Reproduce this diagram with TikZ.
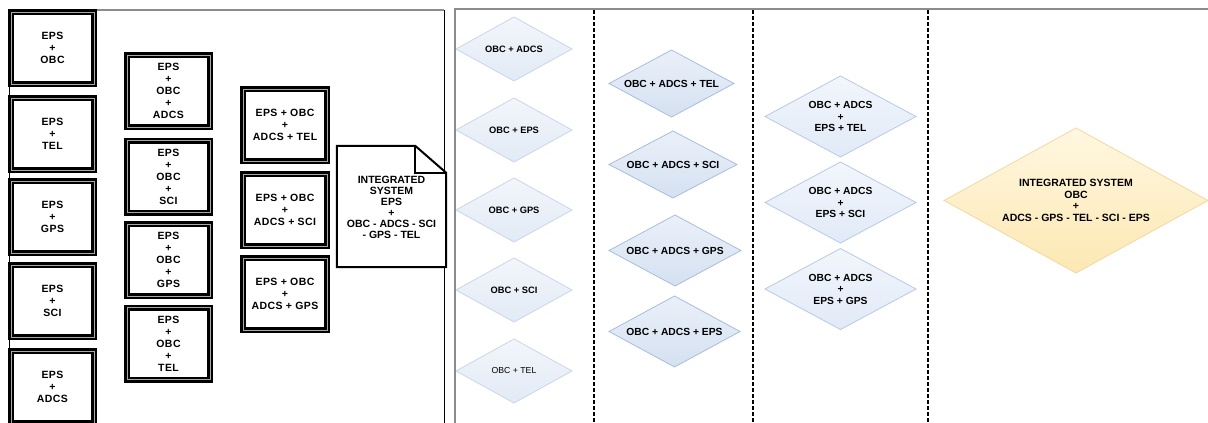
\documentclass[tikz,border=0pt]{standalone}
\usepackage{fontspec}
\setmainfont{Liberation Sans}
\usetikzlibrary{backgrounds}
\definecolor{framegray}{HTML}{8C8C8C}
\definecolor{midgray}{HTML}{A8A8A8}
\definecolor{bluetopA}{HTML}{F3F6FB}
\definecolor{bluebotA}{HTML}{E2EAF5}
\definecolor{blueedgeA}{HTML}{C9D6EA}
\definecolor{bluetopB}{HTML}{EAF0F9}
\definecolor{bluebotB}{HTML}{D5E1F1}
\definecolor{blueedgeB}{HTML}{A9BDDB}
\definecolor{bluetopC}{HTML}{F2F6FC}
\definecolor{bluebotC}{HTML}{E1EAF7}
\definecolor{blueedgeC}{HTML}{B9CAE3}
\definecolor{yeltop}{HTML}{FFF7E0}
\definecolor{yelbot}{HTML}{FDE8B3}
\definecolor{yeledge}{HTML}{F1D9A2}
\tikzset{
  dbox/.style={draw=black, line width=2.5pt, double=midgray, double distance=1pt,
    fill=white, rectangle, inner sep=0pt, outer sep=0pt, align=center,
    font=\fontsize{10.5}{12}\selectfont\bfseries\addfontfeatures{LetterSpace=4},
    minimum width=#1-6pt, minimum height=72pt},
  dbox/.default=89pt,
  docnode/.style={rectangle, inner sep=0pt, align=center,
    minimum width=109pt, minimum height=121pt,
    font=\fontsize{10.5}{11}\selectfont\bfseries},
  dianode/.style={rectangle, inner sep=0pt, outer sep=0pt, align=center},
  diaA/.style={dianode, minimum width=116pt, minimum height=64pt,
    font=\fontsize{9.3}{11}\selectfont\bfseries},
  diaB/.style={dianode, font=\fontsize{10.3}{11.5}\selectfont\bfseries},
  diaC/.style={dianode, minimum width=151pt, minimum height=81pt,
    font=\fontsize{10.3}{11.5}\selectfont\bfseries},
  diaY/.style={dianode, minimum width=264pt, minimum height=145pt,
    font=\fontsize{10.5}{11.5}\selectfont\bfseries},
  fillA/.style={draw=blueedgeA, top color=bluetopA, bottom color=bluebotA, line width=0.8pt},
  fillB/.style={draw=blueedgeB, top color=bluetopB, bottom color=bluebotB, line width=0.8pt},
  fillC/.style={draw=blueedgeC, top color=bluetopC, bottom color=bluebotC, line width=0.8pt},
  fillY/.style={draw=yeledge, top color=yeltop, bottom color=yelbot, line width=0.8pt},
  sep/.style={black, line width=1.1pt, dash pattern=on 3.5pt off 2.5pt},
}
\begin{document}
\begin{tikzpicture}[x=1pt,y=-1pt]
\useasboundingbox (0,0) rectangle (1208,423);
% frames
\coordinate (lpTL) at (9,10);
\coordinate (lpBL) at (9,423);
\coordinate (lpTR) at (444,10);
\coordinate (lpBR) at (444,423);
\draw[black, line width=0.8pt] (lpTL) -- (lpBL);
\draw[framegray, line width=1.2pt] (lpTL) -- (lpTR);
\draw[black, line width=0.8pt] (lpTR) -- (lpBR);
\coordinate (rpBL) at (455,423);
\coordinate (rpTL) at (455,9);
\coordinate (rpTR) at (1208,9);
\draw[framegray, line width=1.2pt] (rpBL) -- (rpTL) -- (rpTR);
\foreach \x/\n in {594/s1,753/s2,928/s3}{
  \coordinate (\n t) at (\x,10);
  \coordinate (\n b) at (\x,423);
  \draw[sep] (\n t) -- (\n b);
}
% column 1 boxes
\node[dbox] (b11) at (52.5,48) {EPS\\+\\OBC};
\node[dbox] (b12) at (52.5,134) {EPS\\+\\TEL};
\node[dbox] (b13) at (52.5,217) {EPS\\+\\GPS};
\node[dbox] (b14) at (52.5,301) {EPS\\+\\SCI};
\node[dbox] (b15) at (52.5,387) {EPS\\+\\ADCS};
% column 2 boxes
\node[dbox] (b21) at (168.5,91) {EPS\\+\\OBC\\+\\ADCS};
\node[dbox] (b22) at (168.5,176.5) {EPS\\+\\OBC\\+\\SCI};
\node[dbox] (b23) at (168.5,260) {EPS\\+\\OBC\\+\\GPS};
\node[dbox] (b24) at (168.5,343.5) {EPS\\+\\OBC\\+\\TEL};
% column 3 boxes
\node[dbox=90pt] (b31) at (285,125) {EPS + OBC\\+\\ADCS + TEL};
\node[dbox=90pt] (b32) at (285,210) {EPS + OBC\\+\\ADCS + SCI};
\node[dbox=90pt] (b33) at (285,294) {EPS + OBC\\+\\ADCS + GPS};
% document
\node[docnode] (doc) at (391.5,206.5) {};
\draw[black, line width=2pt, fill=white, line join=miter]
  (doc.north west) -- ([xshift=-31pt]doc.north east) -- ([yshift=-27pt]doc.north east)
  -- (doc.south east) -- (doc.south west) -- cycle;
\draw[black, line width=2pt] ([xshift=-31pt]doc.north east) |- ([yshift=-27pt]doc.north east);
\node[docnode] at ([yshift=-1pt]doc.center) {INTEGRATED\\SYSTEM\\EPS\\+\\OBC - ADCS - SCI\\- GPS - TEL};
% right panel column 1
\node[diaA] (d11) at (514,49) {OBC + ADCS};
\node[diaA] (d12) at (514,130) {OBC + EPS};
\node[diaA] (d13) at (514,210) {OBC + GPS};
\node[diaA] (d14) at (514,290) {OBC + SCI};
\node[diaA, font=\fontsize{8.7}{10}\selectfont] (d15) at (514,371) {OBC + TEL};
% column 2
\node[diaB, minimum width=125pt, minimum height=67pt] (d21) at (671.5,83.5) {OBC + ADCS + TEL};
\node[diaB, minimum width=128pt, minimum height=67pt] (d22) at (673,164.5) {OBC + ADCS + SCI};
\node[diaB, minimum width=132pt, minimum height=71pt] (d23) at (675,250.5) {OBC + ADCS + GPS};
\node[diaB, minimum width=131pt, minimum height=71pt] (d24) at (674.5,331.5) {OBC + ADCS + EPS};
% column 3
\node[diaC] (d31) at (840.5,116.5) {OBC + ADCS\\+\\EPS + TEL};
\node[diaC] (d32) at (840.5,202.5) {OBC + ADCS\\+\\EPS + SCI};
\node[diaC] (d33) at (840.5,289) {OBC + ADCS\\+\\EPS + GPS};
% integrated
\node[diaY] (dint) at (1076,200.5) {INTEGRATED SYSTEM\\OBC\\+\\ADCS - GPS - TEL - SCI - EPS};
% diamond outlines behind the texts
\begin{scope}[on background layer]
  \fill[white] (0,0) rectangle (1208,423);
  \foreach \n/\s in {d11/fillA,d12/fillA,d13/fillA,d14/fillA,d15/fillA,
                     d21/fillB,d22/fillB,d23/fillB,d24/fillB,
                     d31/fillC,d32/fillC,d33/fillC,dint/fillY}{
    \path[\s] (\n.north) -- (\n.east) -- (\n.south) -- (\n.west) -- cycle;
  }
\end{scope}
\end{tikzpicture}
\end{document}
